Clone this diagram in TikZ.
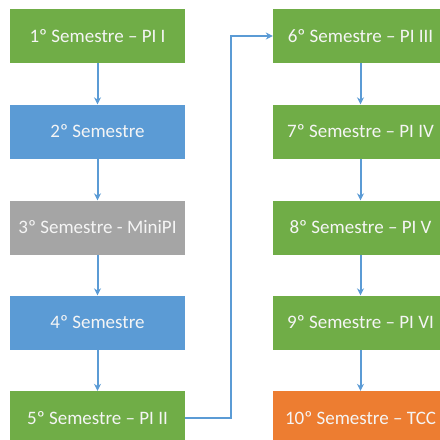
\documentclass[tikz,border=0pt]{standalone}
\usepackage{fontspec}
\setmainfont{Carlito}
\usetikzlibrary{arrows.meta}
\definecolor{pgreen}{HTML}{70AD47}
\definecolor{pblue}{HTML}{5B9BD5}
\definecolor{pgray}{HTML}{A5A5A5}
\definecolor{porange}{HTML}{ED7D31}
\tikzset{
  sem/.style={minimum width=175pt, minimum height=54pt, inner sep=0pt, text=white!92!gray, font=\fontsize{19}{22}\selectfont, anchor=center},
  conn/.style={draw=pblue, line width=2pt, -{Stealth[length=7pt,width=7pt]}}
}
\begin{document}
\begin{tikzpicture}[x=1pt,y=-1pt]
\useasboundingbox (0,0) rectangle (440,440);
\clip (0,0) rectangle (440,440);
\node[sem, fill=pgreen] (s1) at (97.5,36) {1º Semestre – PI I};
\node[sem, fill=pblue] (s2) at (97.5,131.5) {2º Semestre};
\node[sem, fill=pgray] (s3) at (97.5,227.5) {3º Semestre - MiniPI};
\node[sem, fill=pblue] (s4) at (97.5,322.5) {4º Semestre};
\node[sem, fill=pgreen] (s5) at (97.5,418) {5º Semestre – PI II};
\node[sem, fill=pgreen] (s6) at (360.5,36) {6º Semestre – PI III};
\node[sem, fill=pgreen] (s7) at (360.5,131.5) {7º Semestre – PI IV};
\node[sem, fill=pgreen] (s8) at (360.5,227.5) {8º Semestre – PI V};
\node[sem, fill=pgreen] (s9) at (360.5,322.5) {9º Semestre – PI VI};
\node[sem, fill=porange] (s10) at (360.5,418) {10º Semestre – TCC};
\draw[conn] (s1) -- (s2);
\draw[conn] (s2) -- (s3);
\draw[conn] (s3) -- (s4);
\draw[conn] (s4) -- (s5);
\draw[conn] (s6) -- (s7);
\draw[conn] (s7) -- (s8);
\draw[conn] (s8) -- (s9);
\draw[conn] (s9) -- (s10);
\coordinate (j) at (230.5,0);
\draw[conn] (s5.east) -- (s5.east -| j) -- (s6.west -| j) -- (s6.west);
\end{tikzpicture}
\end{document}
